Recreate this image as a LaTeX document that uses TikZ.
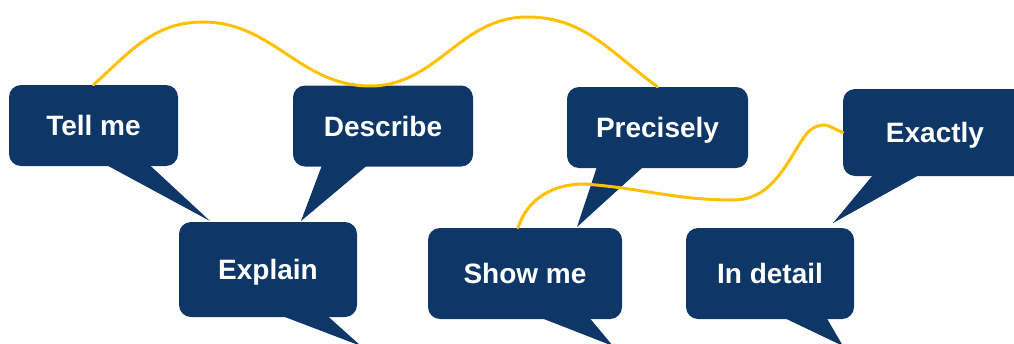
\documentclass[tikz,border=0pt]{standalone}
\usepackage{fontspec}
\setmainfont{Liberation Sans}
\usetikzlibrary{calc}
\definecolor{navy}{HTML}{0E3768}
\definecolor{amber}{HTML}{FFC000}
\tikzset{
  bubble/.style={rectangle, rounded corners=12pt, fill=navy, text=white, inner sep=0pt,
    text height=20pt, text depth=0pt, font=\bfseries\fontsize{28}{33}\selectfont},
  tail/.style={fill=navy},
  wave/.style={draw=amber, line width=3pt, line cap=round},
}

\begin{document}
\begin{tikzpicture}[x=1pt,y=1pt]
  \useasboundingbox (0,-343) rectangle (1014,0);
  \clip (0,-343) rectangle (1014,0);
  % bubbles
  \node[bubble, minimum width=169pt, minimum height=81pt] (tell) at (93.5,-125.5) {Tell me};
  \node[bubble, minimum width=180pt, minimum height=81pt] (desc) at (383,-126) {Describe};
  \node[bubble, minimum width=178pt, minimum height=95pt] (expl) at (268,-269.5) {Explain};
  \node[bubble, minimum width=194pt, minimum height=91pt] (show) at (525,-273.5) {Show me};
  \node[bubble, minimum width=181pt, minimum height=81pt] (prec) at (657.5,-127.5) {Precisely};
  \node[bubble, minimum width=184pt, minimum height=87pt] (exact) at (935,-132.5) {Exactly};
  \node[bubble, minimum width=168pt, minimum height=91pt] (detail) at (770,-273.5) {In detail};
  % tails
  \foreach \n/\a/\b/\tx/\ty in {tell/98/141/210/-221, desc/29/74/301/-221,
      expl/104/149/361/-346, show/114/162/613/-346, prec/30/76/577/-227,
      exact/30/76/833/-223, detail/99/141/843/-346}
    \fill[tail] ($(\n.south west)+(\a,1)$) -- ($(\n.south west)+(\b,1)$) -- (\tx,\ty) -- cycle;
  % yellow lines
  \draw[wave] (tell.north) to[out=42,in=180] (203,-22) to[out=0,in=180] (370,-86)
    to[out=0,in=180] (527,-17) to[out=0,in=144] (prec.north);
  \draw[wave] ($(show.north)+(-7,0)$) to[out=72,in=180] (584,-184) to[out=-4,in=180] (733,-200)
    to[out=0,in=-122] (802,-140) to[out=58,in=180] (825,-125) to[out=-12,in=160] (exact.west);
\end{tikzpicture}
\end{document}
